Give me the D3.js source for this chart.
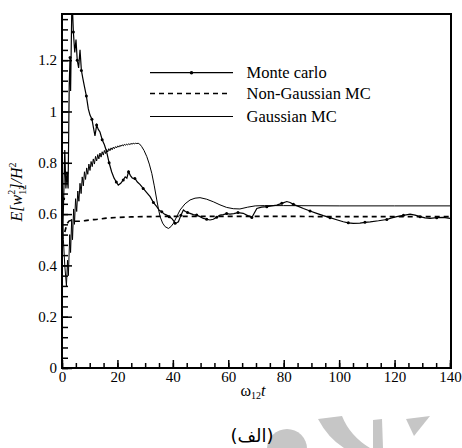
<!DOCTYPE html>
<html>
<head>
<meta charset="utf-8">
<script src="https://cdn.jsdelivr.net/npm/d3@7"></script>
<style>
  html, body { margin: 0; padding: 0; background: #fff; }
  svg { display: block; }
</style>
</head>
<body>
<svg id="chart" width="462" height="448"></svg>
<script>
// Monte Carlo simulation: time (omega12 * t) and E[w12^2]/H^2
const mcT = [0.2, 0.6, 1.0, 1.4, 1.8, 2.2, 2.6, 2.9, 3.1, 3.6, 4.1, 4.6, 5.05, 5.5, 6.0, 6.5, 7.0, 7.5, 8.05, 8.8,
  9.5, 10.1, 10.8, 11.3, 11.9, 12.5, 13.1, 13.7, 14.5, 15.3, 16.1, 17.0, 17.9, 18.8, 19.6, 20.3, 21.2, 22.1, 22.8, 23.4,
  24.0, 24.7, 25.4, 26.3, 27.2, 28.2, 29.3, 30.5, 31.8, 33.0, 34.2, 35.1, 36.0, 36.9, 37.8, 38.7, 39.6, 40.2, 40.8, 41.4,
  42.0, 42.9, 43.8, 44.5, 45.3, 46.2, 47.4, 48.6, 49.8, 51.0, 52.2, 53.4, 54.6, 55.8, 57.0, 58.2, 59.4, 60.6, 62.0, 63.5,
  65.4, 67.0, 68.5, 70.3, 72.0, 73.9, 75.7, 77.5, 79.3, 81.1, 82.3, 83.5, 85.3, 87.1, 89.5, 91.9, 94.3, 96.7, 99.1, 101.5,
  103.3, 105.1, 107.5, 109.3, 111.2, 114.2, 117.2, 119.0, 120.8, 123.2, 125.6, 127.4, 129.2, 131.0, 132.8, 135.2, 137.6, 140.0];
const mcV = [0.50, 0.66, 0.85, 0.70, 0.76, 0.70, 1.10, 1.21, 1.08, 1.45, 1.31, 1.23, 1.28, 1.20, 1.17, 1.24, 1.16, 1.13, 1.10, 1.06,
  1.01, 0.986, 0.97, 0.94, 0.905, 0.947, 0.93, 0.92, 0.89, 0.87, 0.843, 0.80, 0.765, 0.74, 0.725, 0.713, 0.72, 0.733, 0.745, 0.74,
  0.765, 0.75, 0.74, 0.739, 0.725, 0.715, 0.70, 0.685, 0.668, 0.645, 0.629, 0.615, 0.609, 0.60, 0.596, 0.59, 0.583, 0.575, 0.564, 0.566,
  0.57, 0.595, 0.616, 0.61, 0.606, 0.603, 0.598, 0.596, 0.59, 0.583, 0.58, 0.577, 0.58, 0.588, 0.596, 0.598, 0.602, 0.60, 0.602, 0.606,
  0.603, 0.594, 0.587, 0.622, 0.627, 0.629, 0.632, 0.635, 0.642, 0.649, 0.645, 0.638, 0.63, 0.622, 0.612, 0.603, 0.594, 0.586, 0.578, 0.57,
  0.566, 0.564, 0.565, 0.568, 0.57, 0.574, 0.579, 0.585, 0.59, 0.595, 0.60, 0.596, 0.59, 0.585, 0.583, 0.586, 0.587, 0.583];

// Non-Gaussian MC
const ngT = [1.0, 2.0, 3.0, 4.0, 6.0, 8.0, 10, 13, 16, 20, 25, 30, 40, 60, 80, 100, 120, 140];
const ngV = [0.53, 0.565, 0.575, 0.572, 0.572, 0.574, 0.577, 0.58, 0.584, 0.587, 0.589, 0.59, 0.591, 0.591, 0.591, 0.59, 0.59, 0.59];

// Gaussian MC (rippled rise, overshoot, then settling)
const gT = [0.0, 0.5, 1.0, 1.6, 2.0, 2.3, 2.8, 3.1, 3.5, 3.8, 4.2, 4.5, 4.9, 5.3, 5.7, 6.1, 6.5, 6.9, 7.3, 7.7,
  8.1, 8.5, 8.9, 9.3, 9.7, 10.1, 10.5, 10.9, 11.3, 11.7, 12.1, 12.5, 12.9, 13.3, 13.7, 14.1, 14.5, 14.9, 15.3, 15.7,
  16.1, 16.5, 16.9, 17.3, 17.7, 18.1, 18.5, 18.9, 19.3, 19.7, 20.1, 20.5, 20.9, 21.3, 21.7, 22.1, 22.5, 22.9, 23.3, 23.7,
  24.1, 24.5, 24.9, 25.3, 25.7, 26.1, 26.5, 27.0, 27.5, 28.0, 28.7, 29.6, 30.6, 31.5, 32.4, 33.3, 34.2, 34.8, 35.4, 36.3,
  37.2, 38.4, 39.3, 40.2, 41.4, 42.6, 44.4, 46.2, 48.0, 49.8, 52.2, 54.6, 57.0, 59.4, 61.8, 64.2, 67.0, 69.7, 73, 80,
  100, 120, 140];
const gV = [0.62, 0.50, 0.40, 0.32, 0.42, 0.36, 0.52, 0.45, 0.58, 0.50, 0.62, 0.56, 0.66, 0.61, 0.69, 0.65, 0.72, 0.68, 0.745, 0.71,
  0.765, 0.735, 0.78, 0.755, 0.795, 0.77, 0.805, 0.785, 0.815, 0.795, 0.825, 0.807, 0.832, 0.815, 0.838, 0.822, 0.843, 0.83, 0.848, 0.836,
  0.852, 0.842, 0.855, 0.847, 0.858, 0.851, 0.861, 0.855, 0.863, 0.858, 0.866, 0.861, 0.868, 0.864, 0.87, 0.866, 0.872, 0.868, 0.873, 0.87,
  0.874, 0.871, 0.875, 0.873, 0.876, 0.874, 0.876, 0.875, 0.876, 0.873, 0.864, 0.848, 0.824, 0.795, 0.759, 0.71, 0.655, 0.62, 0.59, 0.565,
  0.551, 0.544, 0.551, 0.564, 0.59, 0.616, 0.64, 0.655, 0.662, 0.664, 0.658, 0.648, 0.636, 0.626, 0.621, 0.62, 0.627, 0.632, 0.633, 0.633,
  0.632, 0.632, 0.632];

// Axis ticks
const xMajor = [0, 20, 40, 60, 80, 100, 120, 140];
const xMinor = d3.range(0, 141, 5);
const yMajor = [0, 0.2, 0.4, 0.6, 0.8, 1, 1.2];
const yMinor = d3.range(0, 1.381, 0.04);

const legendNames = ["Monte carlo", "Non-Gaussian MC", "Gaussian MC"];

const svg = d3.select("#chart");
const L = 62, R = 450, T = 14, B = 368;
const x = d3.scaleLinear().domain([0, 140]).range([L, R]);
const y = d3.scaleLinear().domain([0, 1.38]).range([B, T]);

const serif = '"Liberation Serif", serif';

// faint logo shapes along the bottom edge
const wm = svg.append("g").attr("fill", "#c6c6c6");
wm.append("circle").attr("cx", 287).attr("cy", 449).attr("r", 20);
wm.append("path").attr("d", "M318,419 Q328,438 344,448 L370,448 Q350,436 342,416 Z");
wm.append("path").attr("d", "M373,420 L382,419 L383,448 L373,448 Z");
wm.append("path").attr("d", "M406,419 L430,416 L414,436 Z");

svg.append("defs").append("clipPath").attr("id", "plotclip")
  .append("rect").attr("x", L).attr("y", T).attr("width", R - L).attr("height", B - T);

const plot = svg.append("g").attr("clip-path", "url(#plotclip)");
const line = d3.line().x(d => x(d[0])).y(d => y(d[1]));
const smooth = d3.line().x(d => x(d[0])).y(d => y(d[1])).curve(d3.curveMonotoneX);

const mcData = mcT.map((t, i) => [t, mcV[i]]);
const ngData = ngT.map((t, i) => [t, ngV[i]]);
const gData = gT.map((t, i) => [t, gV[i]]);

plot.append("path").datum(gData).attr("d", line)
  .attr("fill", "none").attr("stroke", "#000").attr("stroke-width", 1);
plot.append("path").datum(ngData).attr("d", smooth)
  .attr("fill", "none").attr("stroke", "#000").attr("stroke-width", 1.7).attr("stroke-dasharray", "5,4");
plot.append("path").datum(mcData).attr("d", line)
  .attr("fill", "none").attr("stroke", "#000").attr("stroke-width", 1.2);
plot.selectAll("circle.mc").data(mcData.filter((d, i) => i % 3 === 1))
  .join("circle").attr("class", "mc")
  .attr("cx", d => x(d[0])).attr("cy", d => y(d[1])).attr("r", 1.5).attr("fill", "#000");

// axes with inward ticks
function styleAxis(g) {
  g.attr("font-family", serif).attr("font-size", 15);
  g.select(".domain").remove();
  g.selectAll(".tick line").attr("stroke", "#000").attr("stroke-width", 1.5);
  g.selectAll(".tick text").attr("fill", "#000");
}
svg.append("g").attr("transform", `translate(0,${B})`)
  .call(d3.axisBottom(x).tickValues(xMinor).tickSize(-5).tickFormat(""))
  .call(styleAxis);
svg.append("g").attr("transform", `translate(0,${B})`)
  .call(d3.axisBottom(x).tickValues(xMajor).tickSize(-8).tickPadding(3).tickFormat(d3.format("d")))
  .call(styleAxis);
svg.append("g").attr("transform", `translate(${L},0)`)
  .call(d3.axisLeft(y).tickValues(yMinor).tickSize(-6).tickFormat(""))
  .call(styleAxis);
svg.append("g").attr("transform", `translate(${L},0)`)
  .call(d3.axisLeft(y).tickValues(yMajor).tickSize(-10).tickPadding(5).tickFormat(d => d3.format("")(d)))
  .call(styleAxis);

// frame
svg.append("rect").attr("x", L).attr("y", T).attr("width", R - L + 1).attr("height", B - T)
  .attr("fill", "none").attr("stroke", "#000").attr("stroke-width", 2);

// legend
const lg = svg.append("g");
const rows = [72.7, 93.5, 116.5];
lg.append("line").attr("x1", 150).attr("x2", 233).attr("y1", rows[0]).attr("y2", rows[0])
  .attr("stroke", "#000").attr("stroke-width", 1.2);
lg.append("circle").attr("cx", 191.5).attr("cy", rows[0]).attr("r", 1.8).attr("fill", "#000");
lg.append("line").attr("x1", 150).attr("x2", 231).attr("y1", rows[1]).attr("y2", rows[1])
  .attr("stroke", "#000").attr("stroke-width", 1.7).attr("stroke-dasharray", "5,4");
lg.append("line").attr("x1", 150).attr("x2", 233).attr("y1", rows[2]).attr("y2", rows[2])
  .attr("stroke", "#000").attr("stroke-width", 1);
lg.selectAll("text").data(legendNames).join("text")
  .attr("x", 246.5).attr("y", (d, i) => rows[i]).attr("dy", "0.35em")
  .attr("font-family", serif).attr("font-size", 16.5).text(d => d);

// x axis title: omega_12 t
const xt = svg.append("text").attr("x", 253).attr("y", 396).attr("text-anchor", "middle")
  .attr("font-family", serif).attr("font-size", 16);
xt.append("tspan").text("ω");
xt.append("tspan").attr("font-size", 10).attr("dy", 3).text("12");
xt.append("tspan").attr("font-style", "italic").attr("dy", -3).text("t");

// y axis title: E[w_12^2]/H^2
const yt = svg.append("text").attr("transform", "translate(22,192) rotate(-90)")
  .attr("text-anchor", "middle").attr("font-family", serif).attr("font-size", 16).attr("font-style", "italic");
yt.append("tspan").text("E[w");
yt.append("tspan").attr("font-size", 10).attr("font-style", "normal").attr("dy", 4).text("12");
yt.append("tspan").attr("font-size", 10).attr("font-style", "normal").attr("dx", -10).attr("dy", -11).text("2");
yt.append("tspan").attr("dy", 7).text("]/H");
yt.append("tspan").attr("font-size", 10).attr("font-style", "normal").attr("dy", -6).text("2");

// caption
svg.append("text").attr("x", 252).attr("y", 442).attr("text-anchor", "middle")
  .attr("font-family", '"DejaVu Sans", sans-serif').attr("font-size", 18)
  .attr("direction", "rtl").text("(الف)");
</script>
</body>
</html>
